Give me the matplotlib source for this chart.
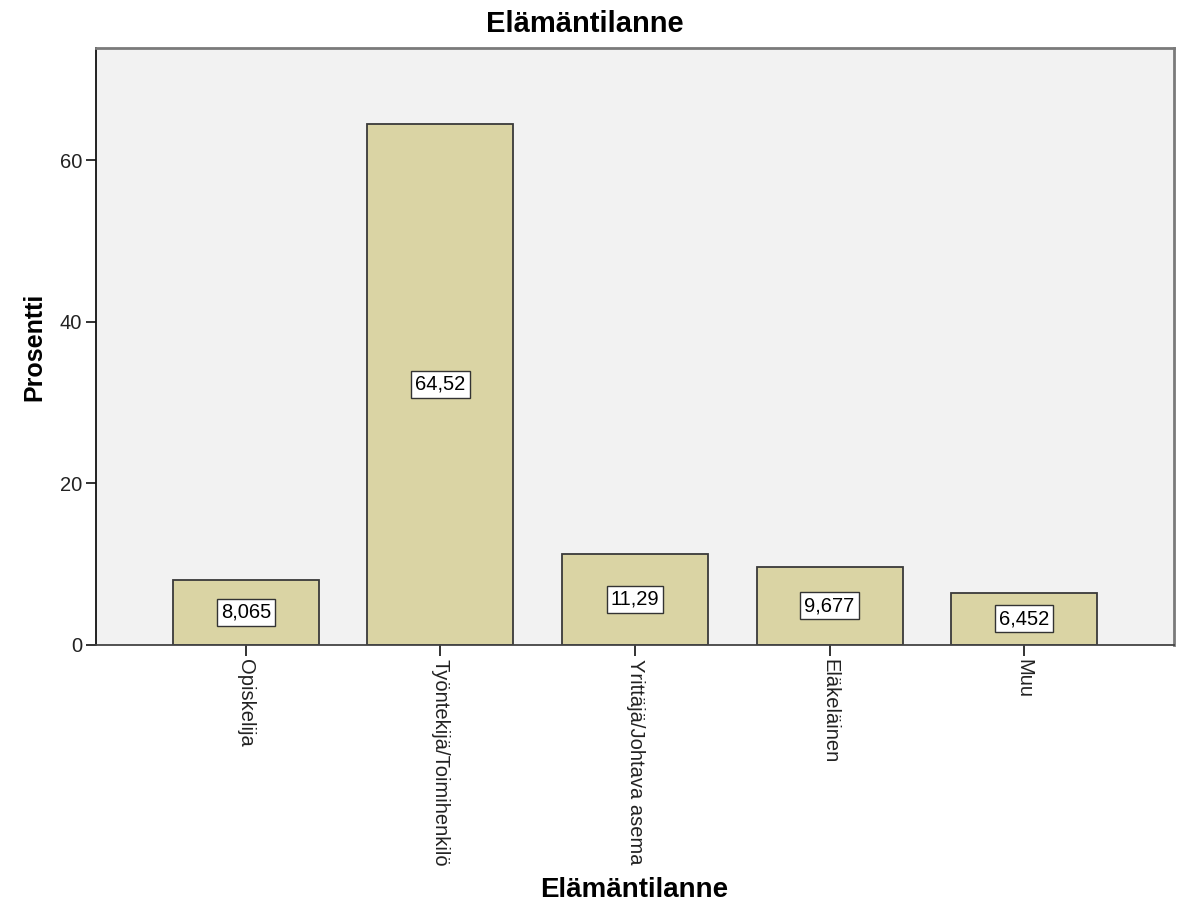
import matplotlib
matplotlib.use("Agg")
import matplotlib.pyplot as plt
import numpy as np

plt.rcParams['font.family'] = ['Liberation Sans', 'DejaVu Sans']

categories = ['Opiskelija', 'Työntekijä/Toimihenkilö', 'Yrittäjä/Johtava asema',
              'Eläkeläinen', 'Muu']
percent = [8.065, 64.52, 11.29, 9.677, 6.452]
value_labels = ['8,065', '64,52', '11,29', '9,677', '6,452']

fig = plt.figure(figsize=(11.8, 9.16), dpi=100)
ax = fig.add_axes([0.0814, 0.2959, 0.9135, 0.6517])
ax.set_facecolor('#f2f2f2')

x = np.arange(len(categories))
ax.bar(x, percent, width=0.75, color='#dad4a4', edgecolor='#3a3a3a', linewidth=1.3, zorder=2)

# value boxes sit in the middle of each bar
for xi, v, lab in zip(x, percent, value_labels):
    ax.text(xi, v / 2, lab, ha='center', va='center', fontsize=14.5, zorder=3,
            bbox=dict(boxstyle='square,pad=0.2', facecolor='white', edgecolor='#333333', linewidth=1))

ax.set_xlim(-0.77, len(categories) - 1 + 0.77)
ax.set_ylim(0, 73.9)
ax.set_yticks([0, 20, 40, 60])
ax.set_xticks(x)
ax.set_xticklabels(categories, rotation=270, ha='center', va='top', fontsize=14.5)
ax.tick_params(axis='y', labelsize=14.5, length=7, width=1.3, colors='#222222', pad=3)
ax.tick_params(axis='x', length=8, width=1.3, colors='#222222', pad=2)

for side in ['top', 'right']:
    ax.spines[side].set_color('#7a7a7a')
    ax.spines[side].set_linewidth(2)
ax.spines['left'].set_color('#111111')
ax.spines['left'].set_linewidth(1.3)
ax.spines['bottom'].set_color('#444444')
ax.spines['bottom'].set_linewidth(1.3)

fig.text(0.496, 0.974, 'Elämäntilanne', ha='center', va='center', fontsize=21, fontweight='bold')
ax.set_ylabel('Prosentti', fontsize=18, fontweight='bold', labelpad=10)
fig.text(0.5374, 0.014, 'Elämäntilanne', ha='center', va='bottom', fontsize=20, fontweight='bold')

fig.savefig('out.png', dpi=100, facecolor='white')
